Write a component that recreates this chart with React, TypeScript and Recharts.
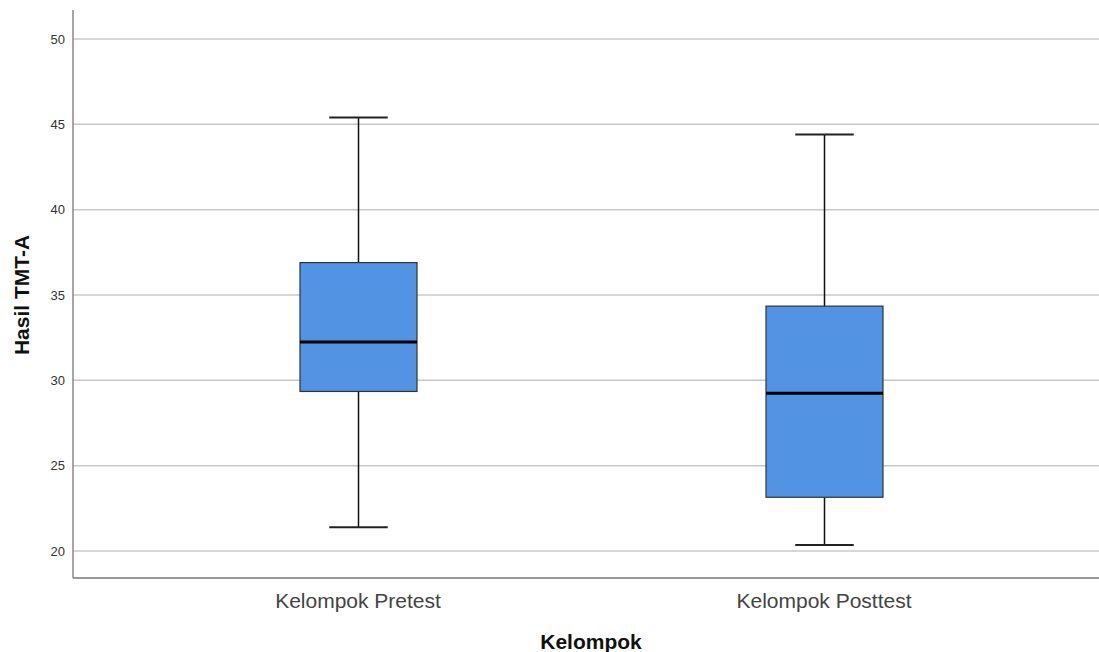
import React from "react";
import { ComposedChart, Bar, XAxis, YAxis, CartesianGrid } from "recharts";

const categories = ["Kelompok Pretest", "Kelompok Posttest"];
const minValues = [21.4, 20.35];
const q1Values = [29.35, 23.15];
const medianValues = [32.25, 29.25];
const q3Values = [36.9, 34.35];
const maxValues = [45.4, 44.4];
const yTicks = [20, 25, 30, 35, 40, 45, 50];

const data = categories.map((name, i) => ({
  name,
  range: [minValues[i], maxValues[i]],
  min: minValues[i],
  q1: q1Values[i],
  median: medianValues[i],
  q3: q3Values[i],
  max: maxValues[i],
}));

const BoxShape = (props: any) => {
  const { x, y, width, height, payload } = props;
  const { min, max, q1, median, q3 } = payload;
  const ppu = height / (max - min);
  const toY = (v: number) => y + (max - v) * ppu;
  const cx = x + width / 2;
  const capW = width / 2;
  return (
    <g>
      <line x1={cx} x2={cx} y1={toY(max)} y2={toY(min)} stroke="#111" strokeWidth={1.5} />
      <line x1={cx - capW / 2} x2={cx + capW / 2} y1={toY(max)} y2={toY(max)} stroke="#222" strokeWidth={2} />
      <line x1={cx - capW / 2} x2={cx + capW / 2} y1={toY(min)} y2={toY(min)} stroke="#222" strokeWidth={2} />
      <rect x={x} y={toY(q3)} width={width} height={toY(q1) - toY(q3)} fill="#5293e3" stroke="#333" strokeWidth={1.2} />
      <line x1={x} x2={x + width} y1={toY(median)} y2={toY(median)} stroke="#000" strokeWidth={3} />
    </g>
  );
};

const GridLine = (p: any) => (
  <line key={p.key ?? p.index} x1={p.x1} x2={p.x2} y1={p.y1} y2={p.y2} stroke="#c8c8c8" strokeWidth={1.5} fill="none" />
);

export default function App() {
  return (
    <div style={{ position: "absolute", left: 0, top: 0, background: "#fff" }}>
      <ComposedChart
        width={1099}
        height={652}
        data={data}
        margin={{ top: 10, right: 0, bottom: 0, left: 0 }}
        style={{ fontFamily: "Arial, 'Liberation Sans', sans-serif" }}
      >
        <CartesianGrid vertical={false} horizontal={GridLine} stroke="none" fill="none" syncWithTicks />
        <XAxis
          dataKey="name"
          height={74}
          padding={{ left: 52, right: 42 }}
          tickLine={false}
          axisLine={{ stroke: "#777", strokeWidth: 1.5 }}
          tickSize={0}
          tickMargin={15}
          tick={{ fill: "#444", fontSize: 21 }}
          label={{ value: "Kelompok", position: "insideBottom", offset: 3, dx: 5, fill: "#111", fontSize: 21, fontWeight: "bold" }}
        />
        <YAxis
          type="number"
          domain={[18.42, 51.7]}
          ticks={yTicks}
          width={73}
          tickLine={false}
          tickSize={0}
          tickMargin={8}
          axisLine={{ stroke: "#888", strokeWidth: 1.5 }}
          tick={{ fill: "#333", fontSize: 13 }}
          allowDataOverflow
          label={{ value: "Hasil TMT-A", angle: -90, position: "center", dx: -15, dy: 1, fill: "#111", fontSize: 21, fontWeight: "bold" }}
        />
        <Bar dataKey="range" barSize={117} shape={BoxShape} isAnimationActive={false} />
      </ComposedChart>
    </div>
  );
}
